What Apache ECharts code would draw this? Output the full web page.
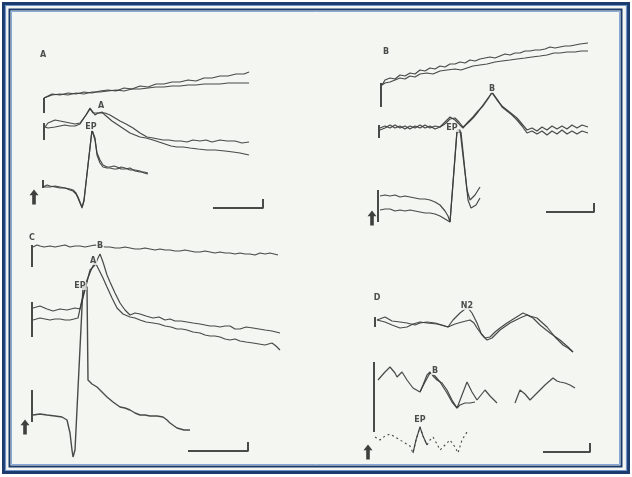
<!DOCTYPE html>
<html>
<head>
<meta charset="utf-8">
<script src="https://cdn.jsdelivr.net/npm/echarts@6/dist/echarts.min.js"></script>
<style>
html, body { margin: 0; padding: 0; background: #fff; }
#chart { width: 632px; height: 477px; }
</style>
</head>
<body>
<div id="chart"></div>
<script>
// panel A: time (x) / amplitude (y), arbitrary units
const traceA1a = [[4,117],[5,119],[12,121],[20,120],[28,122],[36,121],[44,123],[52,122],[60,124],[68,125],[76,124],[84,127],[92,126],[100,129],[108,128],[116,131],[124,131],[132,133],[140,133],[148,135],[156,134],[164,137],[172,137],[180,139],[188,139],[196,141],[204,141],[209,143]];
const traceA1b = [[4,117],[5,118],[12,120],[20,121],[28,120],[36,122],[44,121],[52,123],[60,123],[68,124],[76,125],[84,124],[92,126],[100,126],[108,127],[116,128],[124,128],[132,129],[140,129],[148,130],[156,130],[164,131],[172,131],[180,131],[188,132],[196,132],[204,132],[209,132]];
const traceA2a = [[5,88],[8,92],[10,94],[15,95],[20,94],[25,93],[30,92],[35,91],[40,92],[42,93],[46,100],[50,107],[53,103],[55,100],[58,102],[60,103],[65,102],[70,100],[75,97],[80,94],[86,91],[93,87],[100,82],[107,78],[113,77],[118,76],[123,75],[129,75],[135,74],[141,74],[147,73],[153,75],[160,74],[166,75],[172,73],[180,75],[187,74],[195,74],[202,72],[209,73]];
const traceA2b = [[5,88],[8,87],[10,86],[15,88],[20,89],[25,90],[30,89],[35,89],[40,91],[42,93],[46,100],[50,106],[53,102],[55,100],[59,102],[62,103],[65,100],[67,98],[72,94],[78,90],[84,86],[90,82],[95,80],[100,78],[106,77],[113,75],[119,73],[125,71],[131,69],[137,68],[143,68],[150,67],[158,66],[167,65],[175,65],[185,64],[193,63],[200,62],[209,60]];
const traceA3a = [[3,28],[7,30],[10,29],[15,28],[20,27],[25,27],[30,26],[33,25],[36,22],[38,18],[40,13],[42,7],[44,15],[48,50],[52,85],[55,75],[57,62],[60,55],[63,50],[67,48],[70,48],[74,49],[77,48],[81,46],[85,46],[90,47],[95,44],[100,43],[104,43],[108,42]];
const traceA3b = [[3,28],[7,28],[10,28],[15,29],[20,28],[25,27],[30,25],[33,24],[36,21],[38,17],[40,12],[42,8],[44,14],[48,50],[52,85],[55,77],[57,60],[60,52],[63,48],[67,47],[70,47],[74,46],[77,46],[81,48],[85,47],[90,45],[95,45],[100,44],[104,42],[108,41]];
const calibA = [[4,102,117],[4,75,92],[3,27,35]];
const scaleA = [[173,7],[223,7],[223,16]];
const arrowA = [-6,18];
const labelsA = [['A',3,160],['A',61,109],['EP',51,88]];

// panel B
const traceB1a = [[7,145],[10,150],[15,152],[20,151],[25,155],[30,154],[35,157],[40,156],[45,160],[50,159],[55,162],[60,161],[65,164],[70,163],[75,166],[80,166],[85,168],[90,167],[95,170],[100,169],[105,171],[110,172],[115,173],[120,172],[125,174],[130,176],[135,175],[140,177],[145,177],[150,179],[155,179],[160,180],[165,180],[170,181],[175,183],[180,182],[185,183],[190,184],[195,184],[200,185],[205,186],[213,187]];
const traceB1b = [[7,145],[10,147],[15,148],[20,150],[25,152],[30,151],[35,154],[40,153],[45,156],[52,157],[58,156],[65,159],[72,160],[80,161],[86,160],[92,162],[98,164],[105,165],[112,166],[120,168],[127,169],[135,170],[142,171],[150,172],[157,173],[165,174],[172,175],[179,177],[185,177],[192,178],[200,178],[206,179],[213,179]];
const traceB2a = [[5,102],[10,104],[15,102],[20,105],[25,102],[30,104],[35,101],[40,104],[45,102],[50,105],[55,102],[60,104],[65,103],[70,106],[75,111],[80,112],[84,108],[88,103],[93,107],[98,112],[103,118],[108,125],[113,132],[117,137],[122,130],[127,124],[132,120],[137,116],[142,112],[147,106],[152,100],[157,102],[162,99],[167,103],[172,100],[177,104],[182,101],[187,104],[192,101],[197,105],[202,102],[207,105],[213,103]];
const traceB2b = [[5,100],[10,102],[15,105],[20,102],[25,104],[30,101],[35,104],[40,102],[45,105],[50,102],[55,104],[60,101],[65,103],[70,108],[75,113],[80,110],[84,106],[88,102],[93,108],[98,113],[103,119],[108,124],[113,131],[117,138],[122,131],[127,123],[132,119],[137,115],[142,110],[147,104],[152,97],[157,99],[162,96],[167,99],[172,95],[177,99],[182,96],[187,100],[192,96],[197,99],[202,96],[207,99],[213,97]];
const traceB3a = [[5,34],[10,35],[15,34],[20,35],[25,33],[30,34],[35,33],[40,32],[45,31],[50,31],[55,30],[60,28],[65,25],[70,19],[73,14],[75,8],[82,100],[85,100],[92,40],[95,30],[100,35],[105,43]];
const traceB3b = [[5,20],[10,21],[15,21],[20,19],[25,20],[30,19],[35,20],[40,19],[45,18],[50,17],[55,17],[60,16],[65,14],[70,11],[75,8],[82,98],[86,98],[93,30],[96,22],[101,25],[105,32]];
const calibB = [[6,123,147],[4,92,105],[3,8,40]];
const scaleB = [[171,18],[219,18],[219,27]];
const arrowB = [-3,12];
const labelsB = [['B',11,178],['B',117,141],['EP',77,102]];

// panel C
const traceC1 = [[3,213],[7,215],[10,214],[14,213],[20,214],[25,213],[30,214],[35,215],[40,213],[45,214],[50,214],[55,213],[60,214],[65,215],[70,214],[75,213],[80,213],[85,212],[90,212],[95,213],[100,212],[105,211],[110,211],[115,212],[120,211],[125,210],[130,211],[135,210],[140,210],[145,209],[150,209],[155,210],[160,209],[165,208],[170,208],[175,209],[180,208],[185,207],[190,208],[195,207],[200,207],[205,206],[210,207],[215,206],[220,206],[225,205],[230,207],[235,206],[240,207],[244,206],[248,205]];
const traceC2a = [[3,152],[10,154],[17,151],[23,149],[30,151],[37,150],[45,152],[50,151],[55,170],[60,190],[65,195],[68,202],[70,206],[73,198],[77,185],[80,178],[85,167],[90,157],[95,150],[100,145],[105,147],[110,146],[116,144],[123,142],[129,143],[135,140],[140,141],[145,139],[151,139],[157,138],[163,137],[170,136],[175,135],[180,134],[185,134],[190,133],[195,134],[200,134],[205,131],[210,131],[216,133],[223,132],[229,131],[235,130],[242,129],[250,127]];
const traceC2b = [[3,140],[10,142],[15,141],[20,140],[25,141],[30,141],[35,140],[40,140],[48,142],[52,160],[57,180],[62,192],[65,198],[67,194],[69,192],[73,182],[77,173],[82,162],[87,152],[93,146],[100,143],[105,142],[110,140],[116,138],[123,137],[129,136],[135,134],[141,133],[147,131],[152,131],[157,130],[163,128],[170,127],[175,125],[180,124],[185,124],[190,123],[195,121],[200,120],[205,121],[210,119],[216,118],[223,117],[229,116],[235,115],[242,117],[246,114],[250,110]];
const traceC3 = [[3,45],[10,46],[17,45],[25,44],[32,43],[37,40],[40,27],[42,10],[43,3],[45,10],[53,173],[57,173],[58,80],[62,76],[67,73],[72,68],[77,63],[83,58],[90,53],[95,52],[100,50],[105,47],[110,45],[115,45],[120,44],[127,44],[133,43],[137,40],[140,37],[147,32],[154,30],[160,30]];
const calibC = [[2,193,215],[2,123,158],[2,38,70]];
const scaleC = [[158,9],[218,9],[218,18]];
const arrowC = [-5,33];
const labelsC = [['C',2,222],['B',70,214],['A',63,199],['EP',50,174]];

// panel D
const traceD1a = [[7,140],[15,143],[22,139],[30,138],[37,137],[45,135],[50,137],[57,138],[65,137],[72,135],[78,133],[83,140],[90,147],[95,151],[98,152],[102,147],[107,137],[111,127],[115,122],[120,123],[125,128],[130,132],[137,137],[145,142],[153,147],[160,144],[167,142],[177,133],[185,123],[193,115],[198,112],[203,108]];
const traceD1b = [[7,140],[15,138],[22,135],[30,132],[37,133],[43,136],[50,138],[57,137],[67,136],[78,133],[85,136],[92,138],[100,140],[104,137],[107,132],[112,125],[117,120],[122,122],[130,130],[140,137],[150,142],[157,145],[163,142],[170,135],[180,127],[190,120],[198,113],[203,108]];
const traceD2a = [[8,80],[15,88],[20,93],[25,87],[27,83],[32,88],[37,80],[43,72],[50,68],[53,75],[57,85],[60,88],[63,84],[67,80],[72,77],[77,70],[82,60],[87,52],[92,65],[97,78],[102,68],[107,60],[111,65],[115,70],[120,64],[127,57]];
const traceD2b = [[145,57],[150,70],[155,66],[160,60],[167,67],[175,75],[183,82],[187,79],[190,78],[195,77],[200,75],[205,72]];
const traceD2c = [[50,68],[55,78],[60,87],[65,84],[70,78],[77,67],[82,58],[87,52],[90,55],[95,57],[100,57],[105,58]];
const traceD3 = [[5,23],[10,20],[15,24],[20,26],[25,23],[30,20],[35,17],[40,14],[43,7],[46,20],[50,33],[53,24],[57,15],[60,20],[63,23],[67,16],[70,10],[75,15],[80,20],[85,13],[88,7],[92,20],[97,28]];
const traceD3peak = [[43,7],[46,20],[50,33],[53,24],[57,15]];
const calibD = [[5,133,143],[4,28,98]];
const scaleD = [[173,8],[220,8],[220,17]];
const arrowD = [-2,8];
const labelsD = [['D',7,162],['N2',97,154],['B',65,89],['EP',50,40]];

const ink = '#3b3b3b';
const paper = '#f4f6f1';

const grids = [
    { left: 25, top: 45, width: 240, height: 170, x: [-15, 225], y: [0, 170] },
    { left: 365, top: 35, width: 235, height: 195, x: [-10, 225], y: [0, 195] },
    { left: 20, top: 230, width: 265, height: 230, x: [-10, 255], y: [0, 230] },
    { left: 360, top: 285, width: 235, height: 175, x: [-10, 225], y: [0, 175] }
];

const series = [];

function line(g, data, width, dash) {
    series.push({
        type: 'line',
        xAxisIndex: g,
        yAxisIndex: g,
        data: data,
        symbol: 'none',
        clip: false,
        silent: true,
        lineStyle: { color: ink, width: width || 1.2, type: dash || 'solid', opacity: 0.92 },
        z: 2
    });
}

function calib(g, bars) {
    bars.forEach((b) => line(g, [[b[0], b[1]], [b[0], b[2]]], 2));
}

function labels(g, items) {
    series.push({
        type: 'scatter',
        xAxisIndex: g,
        yAxisIndex: g,
        symbolSize: 1,
        silent: true,
        clip: false,
        itemStyle: { color: 'rgba(0,0,0,0)' },
        z: 5,
        data: items.map((d) => ({ value: [d[1], d[2]], name: d[0] })),
        label: {
            show: true,
            position: 'inside',
            formatter: (p) => p.name,
            fontFamily: 'DejaVu Sans',
            fontWeight: 'bold',
            fontSize: 8,
            color: '#222',
            backgroundColor: paper,
            padding: [0, 1]
        }
    });
}

function arrow(g, pos) {
    series.push({
        type: 'scatter',
        xAxisIndex: g,
        yAxisIndex: g,
        silent: true,
        clip: false,
        symbol: 'path://M5,0 L10,6 L7,6 L7,16 L3,16 L3,6 L0,6 Z',
        symbolSize: [9, 15],
        itemStyle: { color: '#111' },
        data: [pos],
        z: 4
    });
}

// A
line(0, traceA1a); line(0, traceA1b);
line(0, traceA2a); line(0, traceA2b);
line(0, traceA3a); line(0, traceA3b);
calib(0, calibA); line(0, scaleA, 2); arrow(0, arrowA); labels(0, labelsA);
// B
line(1, traceB1a); line(1, traceB1b);
line(1, traceB2a); line(1, traceB2b);
line(1, traceB3a); line(1, traceB3b);
calib(1, calibB); line(1, scaleB, 2); arrow(1, arrowB); labels(1, labelsB);
// C
line(2, traceC1);
line(2, traceC2a); line(2, traceC2b);
line(2, traceC3, 1.4);
calib(2, calibC); line(2, scaleC, 2); arrow(2, arrowC); labels(2, labelsC);
// D
line(3, traceD1a); line(3, traceD1b);
line(3, traceD2a); line(3, traceD2b); line(3, traceD2c);
line(3, traceD3, 1.1, [2, 3]); line(3, traceD3peak, 1.2);
calib(3, calibD); line(3, scaleD, 2); arrow(3, arrowD); labels(3, labelsD);

const chart = echarts.init(document.getElementById('chart'));
chart.setOption({
    animation: false,
    backgroundColor: '#ffffff',
    grid: grids.map((g) => ({ left: g.left, top: g.top, width: g.width, height: g.height })),
    xAxis: grids.map((g, i) => ({ type: 'value', gridIndex: i, min: g.x[0], max: g.x[1], show: false })),
    yAxis: grids.map((g, i) => ({ type: 'value', gridIndex: i, min: g.y[0], max: g.y[1], show: false })),
    graphic: [
        { type: 'rect', z: -10, shape: { x: 3.5, y: 3.5, width: 625, height: 469 }, style: { fill: paper, stroke: '#1d3c6e', lineWidth: 3 } },
        { type: 'rect', z: -9, shape: { x: 5.5, y: 5.5, width: 621, height: 465 }, style: { fill: null, stroke: '#6f95cc', lineWidth: 1.2 } },
        { type: 'rect', z: -9, shape: { x: 9.5, y: 9.5, width: 612, height: 457 }, style: { fill: null, stroke: '#1d3c6e', lineWidth: 2 } },
        { type: 'rect', z: -9, shape: { x: 11.5, y: 11.5, width: 608, height: 453 }, style: { fill: null, stroke: '#8aa8d6', lineWidth: 1 } }
    ],
    series: series
});
</script>
</body>
</html>
